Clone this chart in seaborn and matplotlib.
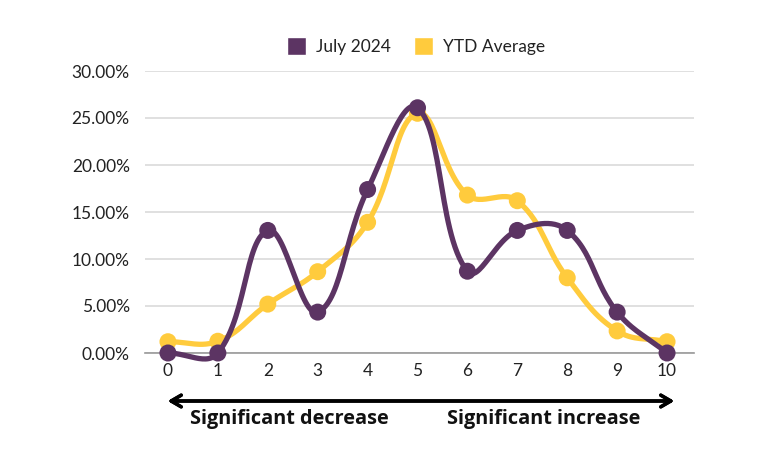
import numpy as np
import pandas as pd
import matplotlib
matplotlib.use("Agg")
import matplotlib.pyplot as plt
import seaborn as sns
from matplotlib.patches import Patch

# scores 0..10, share of responses in %
scores = [0, 1, 2, 3, 4, 5, 6, 7, 8, 9, 10]
july_2024 = [0.0, 0.0, 13.04, 4.35, 17.39, 26.09, 8.70, 13.04, 13.04, 4.35, 0.0]
ytd_average = [1.2, 1.25, 5.2, 8.65, 13.9, 25.5, 16.8, 16.2, 8.0, 2.35, 1.2]
y_ticks = [0, 5, 10, 15, 20, 25, 30]

purple = "#5C3463"
yellow = "#FFCB3D"

X_PX, Y_PX = 49.9, 9.4  # rough pixels per unit, for the curve shape


def smooth(x, y, tension=0.4, n=30):
    # tension spline through the points (drawing only)
    p = np.column_stack([np.asarray(x, float) * X_PX, np.asarray(y, float) * Y_PX])
    m = len(p)
    cp_prev, cp_next = p.copy(), p.copy()
    for i in range(m):
        a = p[max(i - 1, 0)]
        c = p[min(i + 1, m - 1)]
        d01 = np.hypot(*(p[i] - a))
        d12 = np.hypot(*(c - p[i]))
        tot = d01 + d12
        if tot == 0:
            continue
        cp_prev[i] = p[i] - tension * d01 / tot * (c - a)
        cp_next[i] = p[i] + tension * d12 / tot * (c - a)
    t = np.linspace(0, 1, n)[:, None]
    segs = []
    for i in range(m - 1):
        b = ((1 - t) ** 3 * p[i] + 3 * (1 - t) ** 2 * t * cp_next[i]
             + 3 * (1 - t) * t ** 2 * cp_prev[i + 1] + t ** 3 * p[i + 1])
        segs.append(b)
    s = np.vstack(segs)
    return s[:, 0] / X_PX, s[:, 1] / Y_PX


sns.set_theme(style="white")
plt.rcParams["font.family"] = ["Lato", "DejaVu Sans"]

fig = plt.figure(figsize=(7.64, 4.62), dpi=100)
ax = fig.add_axes([145 / 764, 1 - 353 / 462, (694 - 145) / 764, (353 - 71) / 462])

for vals, color, z in ((ytd_average, yellow, 2), (july_2024, purple, 3)):
    sx, sy = smooth(scores, vals)
    curve = pd.DataFrame({"x": sx, "y": sy})
    sns.lineplot(data=curve, x="x", y="y", ax=ax, color=color, lw=3.8,
                 sort=False, zorder=z, clip_on=False)
    pts = pd.DataFrame({"x": scores, "y": vals})
    sns.scatterplot(data=pts, x="x", y="y", ax=ax, color=color, s=150,
                    edgecolor="none", zorder=z + 0.5, clip_on=False)

ax.set_xlim(-0.46, 10.54)
ax.set_ylim(0, 30)
ax.set_xticks(scores)
ax.set_yticks(y_ticks)
ax.set_yticklabels([f"{v:.2f}%" for v in y_ticks])
ax.set_xlabel("")
ax.set_ylabel("")
ax.grid(axis="y", color="#DDDDDD", lw=1.3)
ax.set_axisbelow(True)
for side in ("top", "right", "left"):
    ax.spines[side].set_visible(False)
ax.spines["bottom"].set_color("#999999")
ax.spines["bottom"].set_linewidth(1.2)
ax.tick_params(axis="both", length=0, labelsize=12.5, colors="#222222")
ax.tick_params(axis="y", pad=11)
ax.tick_params(axis="x", pad=7)

handles = [Patch(facecolor=purple, label="July 2024"),
           Patch(facecolor=yellow, label="YTD Average")]
fig.legend(handles=handles, loc="center", bbox_to_anchor=(416 / 764, 1 - 46 / 462),
           ncol=2, frameon=False, fontsize=12.5, handlelength=1.1, handleheight=1.3,
           handletextpad=0.6, columnspacing=1.3, labelcolor="#222222")

# double-headed arrow under the axis
fig.add_artist(plt.annotate("", xy=(677 / 764, 1 - 401 / 462), xytext=(165 / 764, 1 - 401 / 462),
                            xycoords="figure fraction", textcoords="figure fraction",
                            arrowprops=dict(arrowstyle="<->,head_length=0.6,head_width=0.35",
                                            color="black", lw=2.5)))
fig.text(289 / 764, 1 - 419 / 462, "Significant decrease", ha="center", va="center",
         fontsize=14.3, fontweight="bold", family=["Open Sans", "DejaVu Sans"], color="#111111")
fig.text(544 / 764, 1 - 419 / 462, "Significant increase", ha="center", va="center",
         fontsize=14.3, fontweight="bold", family=["Open Sans", "DejaVu Sans"], color="#111111")

fig.savefig("out.png", dpi=100, facecolor="white")
